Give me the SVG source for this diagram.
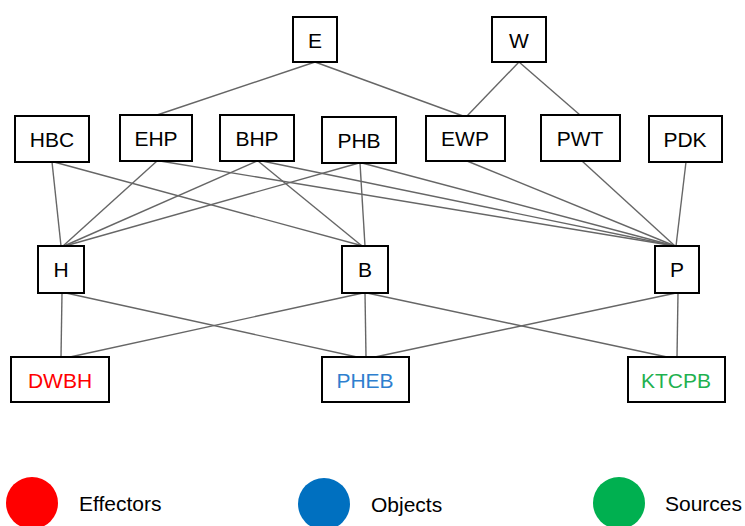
<svg xmlns="http://www.w3.org/2000/svg" width="745" height="526" viewBox="0 0 745 526">
<style>
.box{fill:#fff;stroke:#000;stroke-width:2}
.lbl{font-family:"Liberation Sans",Arial,sans-serif;font-size:21px;fill:#000;text-anchor:middle;dominant-baseline:central}
.leg{font-family:"Liberation Sans",Arial,sans-serif;font-size:21px;fill:#000;dominant-baseline:central}
#edges line{stroke:#666;stroke-width:1.4}
</style>
<rect width="745" height="526" fill="#fff"/>
<g id="edges">
<line x1="315" y1="62" x2="157" y2="115"/>
<line x1="315" y1="62" x2="463" y2="116"/>
<line x1="519" y1="62" x2="467" y2="116"/>
<line x1="519" y1="62" x2="580" y2="115"/>
<line x1="52" y1="162" x2="61" y2="246"/>
<line x1="54" y1="162" x2="363" y2="246"/>
<line x1="157" y1="161" x2="63" y2="246"/>
<line x1="160" y1="161" x2="675" y2="246"/>
<line x1="257" y1="161" x2="64" y2="246"/>
<line x1="258" y1="161" x2="362" y2="246"/>
<line x1="262" y1="161" x2="675" y2="246"/>
<line x1="359" y1="163" x2="65" y2="246"/>
<line x1="360" y1="163" x2="365" y2="246"/>
<line x1="362" y1="163" x2="675" y2="246"/>
<line x1="467" y1="161" x2="675" y2="246"/>
<line x1="582" y1="161" x2="675" y2="246"/>
<line x1="686" y1="162" x2="676" y2="246"/>
<line x1="62" y1="293" x2="61" y2="357"/>
<line x1="66" y1="293" x2="357" y2="357"/>
<line x1="363" y1="293" x2="70" y2="357"/>
<line x1="365" y1="293" x2="366" y2="357"/>
<line x1="367" y1="293" x2="667" y2="357"/>
<line x1="676" y1="293" x2="375" y2="357"/>
<line x1="678" y1="293" x2="677" y2="357"/>
</g>
<g id="E"><rect class="box" x="293" y="17" width="44" height="45"/><text class="lbl" x="315" y="40">E</text></g>
<g id="W"><rect class="box" x="492" y="17" width="54" height="45"/><text class="lbl" x="519" y="40">W</text></g>
<g id="HBC"><rect class="box" x="15" y="116" width="74" height="46"/><text class="lbl" x="52" y="139">HBC</text></g>
<g id="EHP"><rect class="box" x="120" y="115" width="72" height="46"/><text class="lbl" x="156" y="138">EHP</text></g>
<g id="BHP"><rect class="box" x="220" y="115" width="74" height="46"/><text class="lbl" x="257" y="138">BHP</text></g>
<g id="PHB"><rect class="box" x="322" y="117" width="74" height="46"/><text class="lbl" x="359" y="140">PHB</text></g>
<g id="EWP"><rect class="box" x="426" y="116" width="79" height="45"/><text class="lbl" x="465" y="138">EWP</text></g>
<g id="PWT"><rect class="box" x="541" y="115" width="79" height="46"/><text class="lbl" x="580" y="138">PWT</text></g>
<g id="PDK"><rect class="box" x="649" y="116" width="73" height="46"/><text class="lbl" x="685" y="139">PDK</text></g>
<g id="H"><rect class="box" x="38" y="246" width="46" height="47"/><text class="lbl" x="61" y="269">H</text></g>
<g id="B"><rect class="box" x="342" y="246" width="46" height="47"/><text class="lbl" x="365" y="269">B</text></g>
<g id="P"><rect class="box" x="655" y="246" width="44" height="47"/><text class="lbl" x="677" y="269">P</text></g>
<g id="DWBH"><rect class="box" x="11" y="357" width="98" height="45"/><text class="lbl" x="60" y="380" style="fill:#ff0000">DWBH</text></g>
<g id="PHEB"><rect class="box" x="322" y="357" width="87" height="45"/><text class="lbl" x="365" y="380" style="fill:#2e7fcf">PHEB</text></g>
<g id="KTCPB"><rect class="box" x="628" y="357" width="97" height="45"/><text class="lbl" x="676" y="380" style="fill:#1fb14f">KTCPB</text></g>
<g id="legend">
<ellipse cx="32" cy="503" rx="26" ry="26" fill="#ff0000"/>
<text class="leg" x="79" y="503">Effectors</text>
<ellipse cx="324" cy="504" rx="26" ry="26" fill="#0070c0"/>
<text class="leg" x="371" y="504">Objects</text>
<ellipse cx="619" cy="503" rx="26" ry="26" fill="#00b050"/>
<text class="leg" x="665" y="503">Sources</text>
</g>
</svg>
